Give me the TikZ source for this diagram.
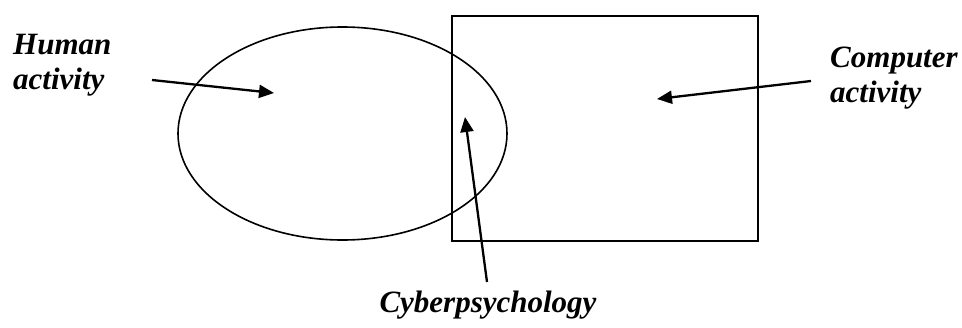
\documentclass[tikz,border=0pt]{standalone}
\usepackage{fontspec}
\setmainfont{Liberation Serif}
\usetikzlibrary{arrows.meta}
\begin{document}
\begin{tikzpicture}[x=1pt,y=-1pt,
  lbl/.style={font=\fontsize{31}{35}\selectfont\bfseries\itshape, inner sep=0pt, align=left},
  shp/.style={draw, line width=1.6pt},
  arr/.style={line width=2.3pt, -{Triangle[length=15pt,width=13pt]}}]
\useasboundingbox (0,0) rectangle (962,327);
\draw[shp] (342.5,133.5) ellipse [x radius=164.5, y radius=106.5];
\node[shp, minimum width=306, minimum height=225, anchor=north west, inner sep=0pt] (box) at (451,15) {};
\node[lbl, anchor=base west] (human) at (13,89) {Human\\activity};
\node[lbl, anchor=base west] (comp) at (830,102) {Computer\\activity};
\node[lbl, anchor=base] (cyber) at (488,312) {Cyberpsychology};
\coordinate (hs) at (152,80);
\coordinate (he) at (274,93);
\coordinate (cs) at (811,81);
\coordinate (ce) at (657,99);
\coordinate (ys) at (487,282);
\coordinate (ye) at (465,117);
\draw[arr] (hs) -- (he);
\draw[arr] (cs) -- (ce);
\draw[arr] (ys) -- (ye);
\end{tikzpicture}
\end{document}
